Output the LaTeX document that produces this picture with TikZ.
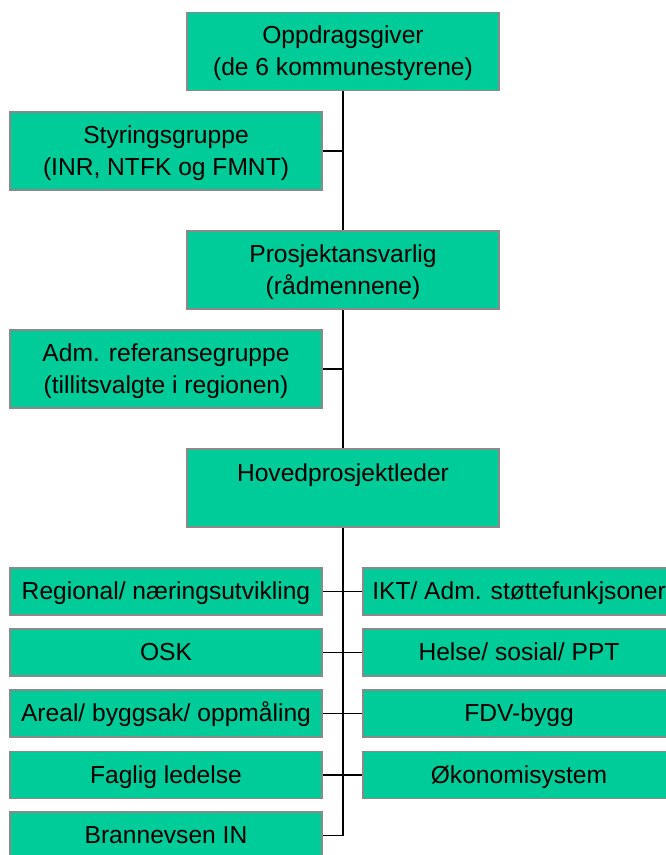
\documentclass[tikz,border=0pt]{standalone}
\usepackage{fontspec}
\setmainfont{Liberation Sans}
\definecolor{boxgreen}{HTML}{00CC99}
\definecolor{boxedge}{HTML}{8A8A8A}
\newcommand{\twolines}[2]{\rule{0pt}{22pt}#1\\#2\rule[-4pt]{0pt}{4pt}}
\begin{document}
\begin{tikzpicture}[x=1pt,y=-1pt,
  orgbox/.style={draw=boxedge, line width=1.6pt, fill=boxgreen, inner sep=0pt,
    align=center, font=\fontsize{24.6}{32}\selectfont, minimum width=312pt},
  tallbox/.style={orgbox, minimum height=78pt},
  rowbox/.style={orgbox, minimum height=47pt, text height=18pt, text depth=2pt},
  link/.style={line width=1.4pt, black}]
\useasboundingbox (0,0) rectangle (666,855);
% top chain
\node[tallbox] (opp) at (343,51.5) {\twolines{Oppdragsgiver}{(de 6 kommunestyrene)}};
\node[tallbox] (sty) at (166,151) {\twolines{Styringsgruppe}{(INR, NTFK og FMNT)}};
\node[tallbox] (pro) at (343,270) {\twolines{Prosjektansvarlig}{(rådmennene)}};
\node[tallbox] (adm) at (166,369) {\twolines{Adm. referansegruppe}{(tillitsvalgte i regionen)}};
\node[tallbox] (hov) at (343,488) {\twolines{Hovedprosjektleder}{}};
% rows
\node[rowbox] (l1) at (166,591.5) {Regional/ næringsutvikling};
\node[rowbox] (r1) at (519,591.5) {IKT/ Adm. støttefunkjsoner};
\node[rowbox] (l2) at (166,652.5) {OSK};
\node[rowbox] (r2) at (519,652.5) {Helse/ sosial/ PPT};
\node[rowbox] (l3) at (166,713.5) {Areal/ byggsak/ oppmåling};
\node[rowbox] (r3) at (519,713.5) {FDV-bygg};
\node[rowbox] (l4) at (166,775) {Faglig ledelse};
\node[rowbox] (r4) at (519,775) {Økonomisystem};
\node[rowbox] (l5) at (166,835.5) {Brannevsen IN};
% connectors
\draw[link] (opp.south) -- (pro.north);
\draw[link] (sty.east) -- (sty.east -| opp.south);
\draw[link] (pro.south) -- (hov.north);
\draw[link] (adm.east) -- (adm.east -| pro.south);
\coordinate (tend) at (hov.south |- l5.east);
\draw[link] (hov.south) -- (tend);
\draw[link] (l5.east) -- (tend);
\draw[link] (l1.east) -- (r1.west);
\draw[link] (l2.east) -- (r2.west);
\draw[link] (l3.east) -- (r3.west);
\draw[link] (l4.east) -- (r4.west);
\end{tikzpicture}
\end{document}
